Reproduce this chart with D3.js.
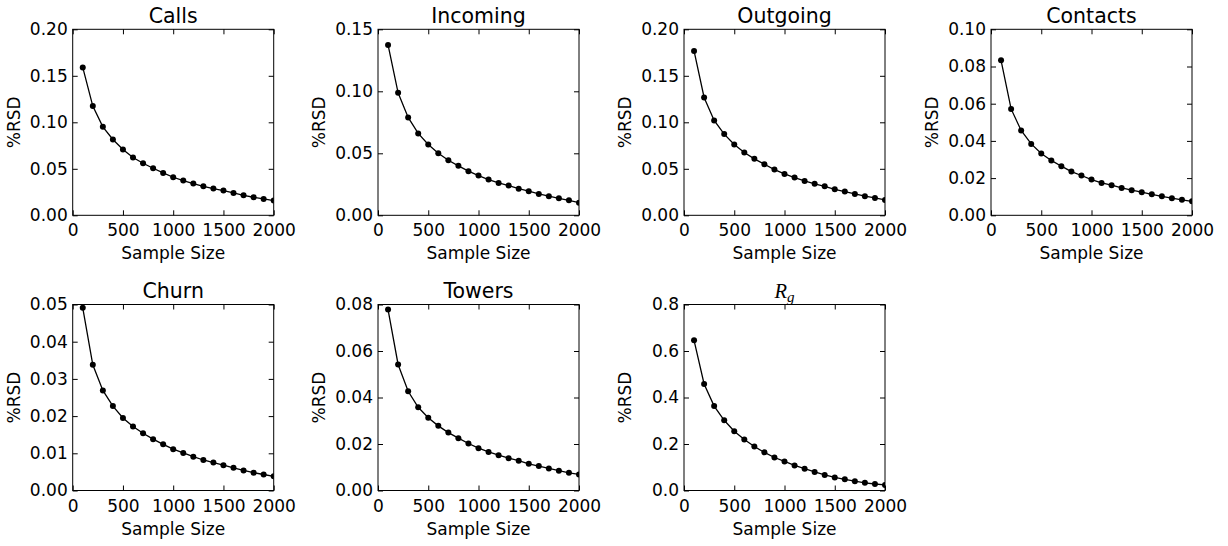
<!DOCTYPE html>
<html lang="en">
  <head>
    <meta charset="UTF-8" />
    <title>%RSD vs Sample Size</title>
    <style>
      body { margin: 0; background: #fff; }
      text { font-family: "DejaVu Sans", sans-serif; fill: #000; }
    </style>
  </head>
  <body>
    <div class="chart"></div>
    <script src="https://d3js.org/d3.v7.min.js"></script>
    <script>
      const sampleSizes = [100, 200, 300, 400, 500, 600, 700, 800, 900, 1000,
        1100, 1200, 1300, 1400, 1500, 1600, 1700, 1800, 1900, 2000];

      const calls = [0.159, 0.1174, 0.0951, 0.0815, 0.0707, 0.0621, 0.056, 0.0506, 0.0456, 0.0409,
        0.0373, 0.0341, 0.0312, 0.0287, 0.0266, 0.024, 0.0215, 0.0194, 0.0176, 0.0158];
      const incoming = [0.1374, 0.0988, 0.0789, 0.066, 0.0571, 0.0501, 0.0444, 0.0399, 0.0356, 0.032,
        0.0288, 0.0261, 0.024, 0.0215, 0.0194, 0.0172, 0.0154, 0.0137, 0.0121, 0.0102];
      const outgoing = [0.1767, 0.1267, 0.102, 0.0873, 0.0761, 0.0675, 0.0607, 0.0549, 0.0492, 0.0445,
        0.0406, 0.037, 0.0338, 0.0312, 0.028, 0.0255, 0.023, 0.0205, 0.0187, 0.0165];
      const contacts = [0.0833, 0.0572, 0.0456, 0.0384, 0.0332, 0.0295, 0.0264, 0.0235, 0.0214, 0.0192,
        0.0174, 0.0162, 0.0147, 0.0135, 0.0124, 0.0113, 0.0102, 0.0092, 0.0083, 0.0075];
      const churn = [0.0491, 0.0338, 0.0269, 0.0227, 0.0195, 0.0172, 0.0154, 0.0138, 0.0124, 0.0111,
        0.0101, 0.0091, 0.0082, 0.0075, 0.0068, 0.0061, 0.0054, 0.0048, 0.0043, 0.0038];
      const towers = [0.0778, 0.0542, 0.0427, 0.0358, 0.0313, 0.0278, 0.0249, 0.0225, 0.0202, 0.0182,
        0.0166, 0.0152, 0.0139, 0.0128, 0.0115, 0.0105, 0.0095, 0.0085, 0.0076, 0.0069];
      const rg = [0.646, 0.458, 0.363, 0.302, 0.255, 0.219, 0.189, 0.164, 0.142, 0.125,
        0.108, 0.094, 0.080, 0.067, 0.056, 0.048, 0.040, 0.033, 0.028, 0.024];

      const titles = ["Calls", "Incoming", "Outgoing", "Contacts", "Churn", "Towers", "Rg"];
      const series = [calls, incoming, outgoing, contacts, churn, towers, rg];
      const yMax = [0.2, 0.15, 0.2, 0.1, 0.05, 0.08, 0.8];
      const yStep = [0.05, 0.05, 0.05, 0.02, 0.01, 0.02, 0.2];
      const yDigits = [2, 2, 2, 2, 2, 2, 1];
      const xTicks = [0, 500, 1000, 1500, 2000];

      const width = 1228;
      const height = 546;
      const colLeft = [72.7, 378, 684, 991];
      const rowTop = [29.3, 304.5];
      const pw = 201;
      const ph = 186;
      const tick = 5;

      const svg = d3
        .select(".chart")
        .append("svg")
        .attr("width", width)
        .attr("height", height);

      const x = d3.scaleLinear().domain([0, 2000]).range([0, pw]);

      series.forEach((values, i) => {
        const left = colLeft[i % 4];
        const top = rowTop[Math.floor(i / 4)];
        const y = d3.scaleLinear().domain([0, yMax[i]]).range([ph, 0]);
        const yTicks = d3.range(0, yMax[i] + yStep[i] / 2, yStep[i]);
        const fmt = d3.format("." + yDigits[i] + "f");

        const g = svg.append("g").attr("transform", `translate(${left},${top})`);

        // 座標軸 (刻度朝內)
        const bottom = g
          .append("g")
          .attr("transform", `translate(0,${ph})`)
          .call(d3.axisBottom(x).tickValues(xTicks).tickSize(-tick).tickPadding(9).tickFormat(d3.format("d")));
        g.append("g").call(d3.axisTop(x).tickValues(xTicks).tickSize(-tick).tickFormat(""));
        g.append("g").call(d3.axisLeft(y).tickValues(yTicks).tickSize(-tick).tickPadding(5).tickFormat(fmt));
        g.append("g")
          .attr("transform", `translate(${pw},0)`)
          .call(d3.axisRight(y).tickValues(yTicks).tickSize(-tick).tickFormat(""));

        g.selectAll(".domain").remove();
        g.selectAll(".tick line").attr("stroke", "#000").attr("stroke-width", 1);
        g.selectAll(".tick text")
          .style("font-family", "DejaVu Sans")
          .style("font-size", "17px")
          .attr("fill", "#000");

        // 裁切範圍
        const clipId = "clip" + i;
        g.append("clipPath").attr("id", clipId).append("rect").attr("width", pw).attr("height", ph);

        const line = d3
          .line()
          .x((d, j) => x(sampleSizes[j]))
          .y((d) => y(d));

        const plot = g.append("g").attr("clip-path", `url(#${clipId})`);
        plot
          .append("path")
          .datum(values)
          .attr("fill", "none")
          .attr("stroke", "#000")
          .attr("stroke-width", 1.3)
          .attr("d", line);
        plot
          .selectAll("circle")
          .data(values)
          .join("circle")
          .attr("cx", (d, j) => x(sampleSizes[j]))
          .attr("cy", (d) => y(d))
          .attr("r", 3)
          .attr("fill", "#000");

        // 外框
        g.append("rect")
          .attr("width", pw)
          .attr("height", ph)
          .attr("fill", "none")
          .attr("stroke", "#000")
          .attr("stroke-width", 1);

        // 標題
        const title = g
          .append("text")
          .attr("x", pw / 2)
          .attr("y", -6.5)
          .attr("text-anchor", "middle")
          .style("font-size", "20.5px");
        if (titles[i] === "Rg") {
          title.style("font-family", "Liberation Serif").style("font-style", "italic");
          title.append("tspan").text("R");
          title.append("tspan").attr("dy", 4).style("font-size", "15px").text("g");
        } else {
          title.text(titles[i]);
        }

        g.append("text")
          .attr("x", pw / 2)
          .attr("y", ph + 44)
          .attr("text-anchor", "middle")
          .style("font-size", "17px")
          .text("Sample Size");

        g.append("text")
          .attr("transform", `translate(${-53},${ph / 2}) rotate(-90)`)
          .attr("text-anchor", "middle")
          .style("font-size", "17px")
          .text("%RSD");
      });
    </script>
  </body>
</html>
